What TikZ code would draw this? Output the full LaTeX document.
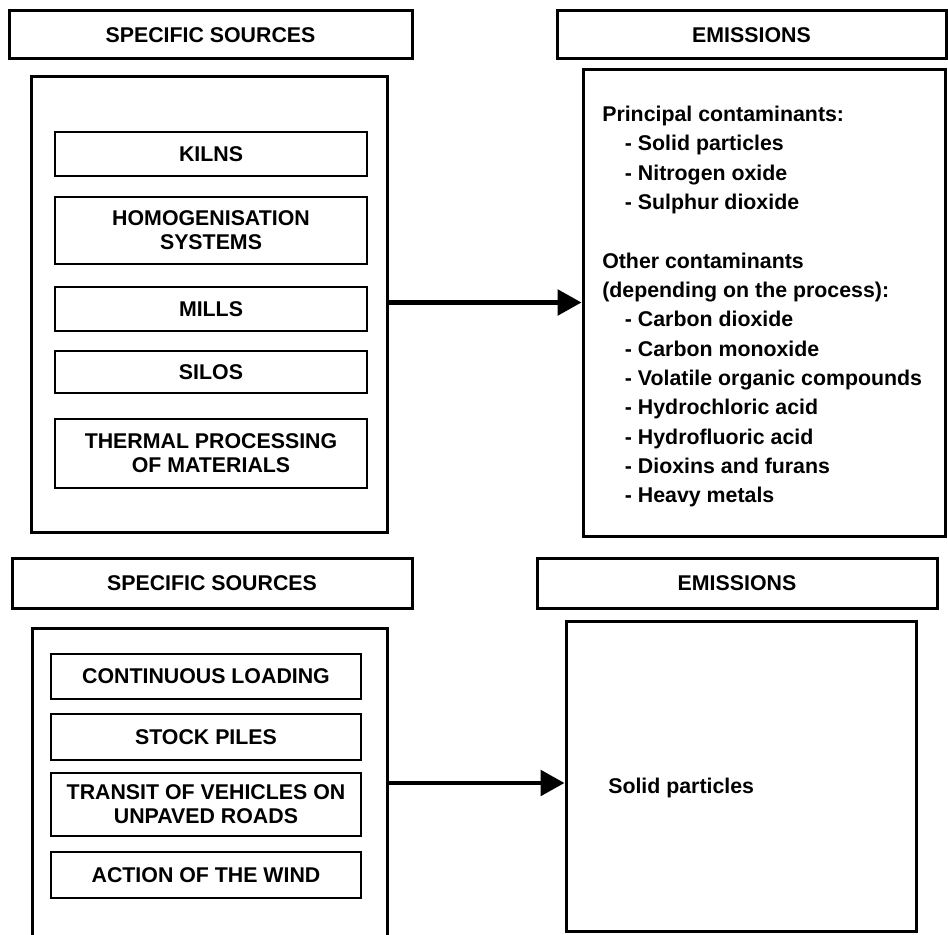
\documentclass[tikz,border=0pt]{standalone}
\usepackage{fontspec}
\setmainfont{Liberation Sans}
\usetikzlibrary{arrows.meta}

\begin{document}
\begin{tikzpicture}[x=0.75pt,y=-0.75pt,
    every node/.style={font=\bfseries\fontsize{16}{18}\selectfont,inner sep=0pt},
    headbox/.style={draw,line width=2.25pt},
    framebox/.style={draw,line width=2.25pt},
    itembox/.style={draw,line width=1.5pt,align=center},
    flow/.style={-{Triangle[length=18pt,width=19pt]},line width=3.5pt}]

    % 描画範囲
    \useasboundingbox (0,0) rectangle (948,934);
    \clip (0,0) rectangle (948,934);

    % パラメータの定義
    \pgfmathsetmacro{\wa}{234}
    \pgfmathsetmacro{\wb}{232.5}
    \pgfmathsetmacro{\xa}{211}
    \pgfmathsetmacro{\xb}{206}

    % 上段：見出し
    \node[headbox,minimum width=302.25pt,minimum height=36pt] (hdrSrcA) at (210.5,35) {SPECIFIC SOURCES};
    \node[headbox,minimum width=291.75pt,minimum height=36pt] (hdrEmiA) at (751.5,35) {EMISSIONS};

    % 上段：発生源の枠と各項目
    \node[framebox,minimum width=267pt,minimum height=341.25pt] (srcA) at (209,304.5) {};
    \node[itembox,minimum width=\wa pt,minimum height=33pt] (kilns) at (\xa,154) {KILNS};
    \node[itembox,minimum width=\wa pt,minimum height=50.25pt] (homog) at (\xa,230.5) {HOMOGENISATION\\SYSTEMS};
    \node[itembox,minimum width=\wa pt,minimum height=33pt] (mills) at (\xa,309) {MILLS};
    \node[itembox,minimum width=\wa pt,minimum height=31.5pt] (silos) at (\xa,372) {SILOS};
    \node[itembox,minimum width=\wa pt,minimum height=51.75pt] (thermal) at (\xa,453.5) {THERMAL PROCESSING\\OF MATERIALS};

    % 上段：排出物の枠
    \node[framebox,minimum width=271.5pt,minimum height=349.5pt] (emiA) at (764,303) {};
    \node[anchor=west,align=left,font=\bfseries\fontsize{16}{22}\selectfont] (listA) at (602,306.5) {%
        Principal contaminants:\\
        \hspace*{17pt}- Solid particles\\
        \hspace*{17pt}- Nitrogen oxide\\
        \hspace*{17pt}- Sulphur dioxide\\[22pt]
        Other contaminants\\
        (depending on the process):\\
        \hspace*{17pt}- Carbon dioxide\\
        \hspace*{17pt}- Carbon monoxide\\
        \hspace*{17pt}- Volatile organic compounds\\
        \hspace*{17pt}- Hydrochloric acid\\
        \hspace*{17pt}- Hydrofluoric acid\\
        \hspace*{17pt}- Dioxins and furans\\
        \hspace*{17pt}- Heavy metals};

    % 下段：見出し
    \node[headbox,minimum width=300pt,minimum height=37.5pt] (hdrSrcB) at (212,583) {SPECIFIC SOURCES};
    \node[headbox,minimum width=300pt,minimum height=37.5pt] (hdrEmiB) at (737,583) {EMISSIONS};

    % 下段：発生源の枠と各項目
    \node[framebox,minimum width=266.25pt,minimum height=234pt] (srcB) at (209.5,784) {};
    \node[itembox,minimum width=\wb pt,minimum height=33.75pt] (loading) at (\xb,676.5) {CONTINUOUS LOADING};
    \node[itembox,minimum width=\wb pt,minimum height=34.5pt] (piles) at (\xb,737) {STOCK PILES};
    \node[itembox,minimum width=\wb pt,minimum height=47.25pt] (transit) at (\xb,804.5) {TRANSIT OF VEHICLES ON\\UNPAVED ROADS};
    \node[itembox,minimum width=\wb pt,minimum height=34.5pt] (wind) at (\xb,875) {ACTION OF THE WIND};

    % 下段：排出物の枠
    \node[framebox,minimum width=262.5pt,minimum height=232.5pt] (emiB) at (741,776) {};
    \node[anchor=west] (listB) at (608,788) {Solid particles};

    % 矢印の描画
    \draw[flow] (srcA.east) ++(0,-2) coordinate (fromA) -- (fromA -| emiA.west);
    \draw[flow] (srcB.east) ++(0,-1) coordinate (fromB) -- (fromB -| emiB.west);

\end{tikzpicture}
\end{document}
